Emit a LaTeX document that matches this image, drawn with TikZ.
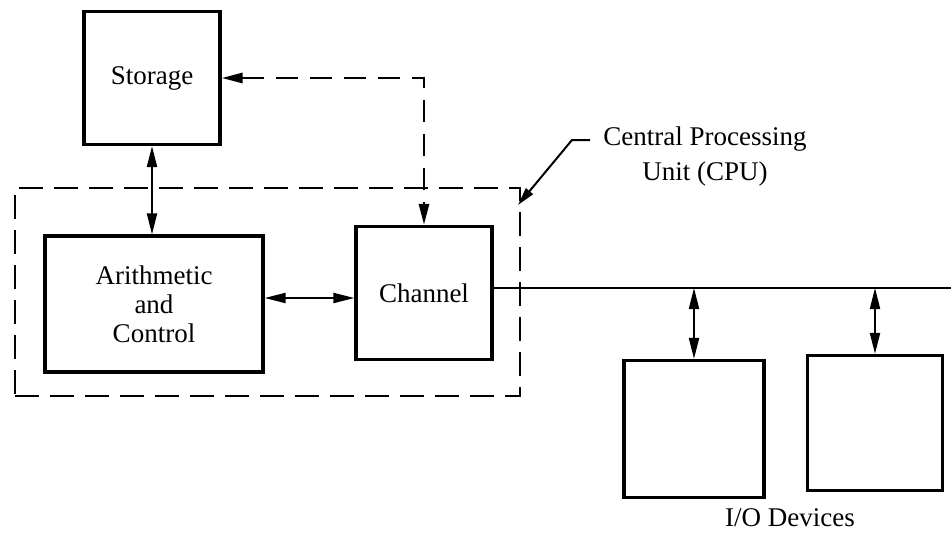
\documentclass[tikz,border=0pt]{standalone}
\usepackage{fontspec}
\setmainfont{Liberation Serif}
\usetikzlibrary{arrows.meta}
\begin{document}
\begin{tikzpicture}[x=1pt,y=-1pt,
  blk/.style={draw, line width=3.2pt, inner sep=0pt, align=center, font=\fontsize{27}{29}\selectfont},
  cpubox/.style={draw, line width=2.8pt, dash pattern=on 24pt off 11pt, inner sep=0pt},
  lbl/.style={align=center, inner sep=0pt, font=\fontsize{27}{35}\selectfont},
  conn/.style={line width=2pt},
  dconn/.style={line width=2.8pt, dash pattern=on 22pt off 12pt},
  tip/.style={{Triangle[length=21pt,width=10pt]}-{Triangle[length=21pt,width=10pt]}},
  lead/.style={line width=2pt, -{Triangle[length=18pt,width=9pt]}}]
\useasboundingbox (0,0) rectangle (951,533);
% boxes
\node[blk, minimum width=136pt, minimum height=133pt] (storage) at (152,78) {Storage};
\node[blk, minimum width=218pt, minimum height=136pt] (arith) at (154,304) {Arithmetic\\and\\Control};
\node[blk, minimum width=136pt, minimum height=133pt] (channel) at (424,293) {Channel};
\node[blk, minimum width=140pt, minimum height=137pt] (io1) at (694,429) {};
\node[blk, minimum width=135pt, minimum height=135pt] (io2) at (875,423) {};
\node[cpubox, minimum width=505pt, minimum height=208pt] (cpu) at (267.5,292) {};
% labels
\node[lbl] (cpulbl) at (705,157) {Central Processing\\Unit (CPU)};
\node[lbl] (iolbl) at (790,518) {I/O Devices};
% connectors
\draw[conn,tip] (storage.south) -- (storage.south |- arith.north);
\coordinate (ch) at ([yshift=-5pt]channel.west);
\draw[conn,tip] (arith.east |- ch) -- (ch);
\draw[dconn,tip] (storage.east) -- (storage.east -| channel.north) -- (channel.north);
\coordinate (busend) at (951,288);
\draw[conn] ([yshift=5pt]channel.east) -- (busend);
\draw[conn,tip] (io1.north |- busend) -- (io1.north);
\draw[conn,tip] (io2.north |- busend) -- (io2.north);
% leader to CPU
\coordinate (lstart) at (590,140);
\coordinate (ltip) at (518,205);
\draw[lead] (lstart) -- ++(-18,0) -- (ltip);
\end{tikzpicture}
\end{document}
